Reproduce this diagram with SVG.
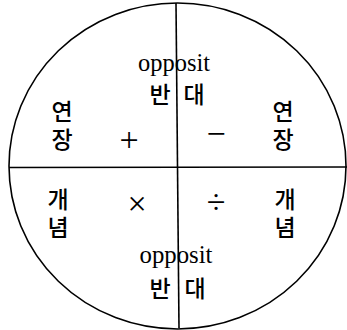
<svg xmlns="http://www.w3.org/2000/svg" width="347" height="330" viewBox="0 0 347 330">
<style>
.ln{stroke:#000;stroke-width:1.6;fill:none}
.en{font-family:"Liberation Serif","DejaVu Serif",serif;font-size:25px;fill:#000;text-anchor:middle}
.ko{font-family:"Noto Sans CJK KR","Noto Sans",sans-serif;font-size:23px;font-weight:500;fill:#000;text-anchor:middle}
.vt{writing-mode:vertical-rl;letter-spacing:5px}
.op{font-family:"Liberation Serif","DejaVu Serif",serif;font-size:34px;fill:#000;text-anchor:middle}
</style>
<rect width="347" height="330" fill="#fff"/>
<g id="connectors">
<ellipse class="ln" cx="177.5" cy="166" rx="168.5" ry="163"/>
<line class="ln" x1="176" y1="3" x2="179" y2="328"/>
<line class="ln" x1="9" y1="167.5" x2="347" y2="167"/>
</g>
<g id="top-opposite">
<text class="en" x="174" y="71" textLength="72" lengthAdjust="spacingAndGlyphs">opposit</text>
<text class="ko" x="160" y="103">반</text>
<text class="ko" x="194" y="103">대</text>
</g>
<g id="bottom-opposite">
<text class="en" x="176" y="263" textLength="73" lengthAdjust="spacingAndGlyphs">opposit</text>
<text class="ko" x="160" y="297">반</text>
<text class="ko" x="195" y="297">대</text>
</g>
<g id="left-top">
<text class="ko vt" x="62" y="128">연장</text>
<text class="op" x="129" y="151">+</text>
</g>
<g id="right-top">
<text class="ko vt" x="283" y="128">연장</text>
<text class="op" x="216" y="145">−</text>
</g>
<g id="left-bottom">
<text class="ko vt" x="58" y="216">개념</text>
<text class="op" x="137" y="215">×</text>
</g>
<g id="right-bottom">
<text class="op" x="216" y="213">÷</text>
<text class="ko vt" x="285" y="216">개념</text>
</g>
</svg>
